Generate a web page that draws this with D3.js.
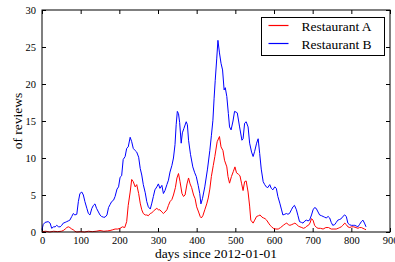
<!DOCTYPE html>
<html>
<head>
<meta charset="utf-8">
<script src="https://cdn.jsdelivr.net/npm/d3@7"></script>
<style>
  body { margin: 0; background: #fff; }
  text { font-family: "Liberation Serif", "DejaVu Serif", serif; fill: #000; }
</style>
</head>
<body>
<script>
// Reviews per day (smoothed)
const daysA = [0,10,20,30,40,50,55,60,64,68,72,77,81,85,90,100,110,120,130,140,150,160,170,176,183,189,196,202,208,214,
  219,223,228,232,236,241,245,250,254,258,262,267,271,275,280,284,288,292,297,301,305,310,314,318,323,327,331,336,340,345,
  349,353,357,362,366,370,375,379,383,387,392,396,400,405,409,412,416,421,426,430,434,438,443,447,453,459,463,468,472,478,
  481,485,490,495,499,503,508,512,516,520,524,528,533,537,540,546,550,555,560,564,569,573,577,581,586,590,594,598,605,611,
  617,624,629,633,637,641,646,650,654,659,663,667,672,676,681,685,689,693,697,701,705,710,714,720,727,734,741,748,755,761,
  766,770,774,778,783,787,791,796,800,806,812,817,821,826,830,834,838];
const reviewsA = [0.05,0.1,0,0.1,0.05,0.1,0.2,0.4,0.6,0.7,0.6,0.4,0.3,0.1,0,0.05,0,0.1,0.05,0.1,0.2,0.1,0.15,0.2,0.3,0.4,0.4,0.5,0.7,0.6,
  1.4,3.6,5.4,7.1,6.8,6.1,6.4,5.2,3.9,3.0,2.5,2.3,2.3,2.2,2.5,2.6,2.8,3.0,3.2,3.0,3.0,2.7,2.5,2.7,3.0,3.6,4.1,4.4,5.0,6.0,
  7.3,7.9,6.8,5.2,4.8,5.0,6.5,7.3,6.5,6.0,5.0,4.5,3.4,2.7,2.1,1.9,2.2,3.0,3.8,4.6,5.8,7.5,9.0,10.2,12.2,12.9,11.5,11.0,9.7,8.8,
  7.5,6.6,7.5,8.2,8.8,8.0,7.8,7.6,6.6,5.6,6.8,6.9,5.4,3.5,1.6,1.2,1.6,2.1,2.2,2.3,2.0,1.9,1.8,1.6,1.2,0.9,0.7,0.5,0.4,0.4,
  0.6,0.9,1.1,1.2,1.0,0.9,1.0,1.1,1.2,1.0,0.8,0.7,0.6,0.5,0.6,0.8,0.9,1.2,1.8,1.6,0.9,0.6,0.5,0.5,0.4,0.6,0.6,0.4,0.4,0.4,
  0.5,0.6,0.7,0.9,1.2,1.0,0.7,0.6,0.7,0.7,0.6,0.5,0.6,0.6,0.5,0.4,0.3];

const daysB = [0,3,8,16,21,25,30,34,38,43,47,51,55,60,64,68,72,77,81,85,90,94,98,103,107,111,116,120,124,129,
  133,137,141,146,150,154,159,163,168,172,176,180,185,189,194,198,202,206,210,215,219,223,228,232,236,241,245,250,254,258,
  262,267,271,275,280,284,288,292,297,301,305,310,314,318,323,327,331,336,340,344,347,350,353,356,360,363,367,373,376,379,
  384,390,395,399,404,408,411,415,421,428,434,438,442,445,448,452,455,459,463,467,471,474,478,482,485,489,494,498,502,505,
  511,517,520,524,528,533,537,542,546,550,555,559,563,567,572,576,580,584,589,593,597,602,606,610,615,619,623,628,632,636,
  640,645,649,653,658,662,666,671,675,680,684,688,692,697,701,705,709,714,718,723,727,731,735,740,744,748,752,757,761,765,
  770,774,778,783,787,791,795,800,805,809,813,817,821,826,830,834,838];
const reviewsB = [0.3,1.0,1.3,1.4,1.2,0.5,0.7,0.7,0.9,0.7,0.7,0.9,1.2,1.3,1.4,1.5,1.6,2.1,2.5,2.3,2.4,4.1,5.2,5.4,5.0,4.1,3.2,2.5,2.3,3.2,
  3.6,3.8,3.2,2.7,2.3,2.1,2.0,2.0,2.3,3.3,3.7,4.1,4.3,4.8,5.8,6.1,7.4,7.6,9.8,10.2,11.3,11.5,12.8,12.2,11.3,11.0,10.8,10.1,8.6,7.7,
  6.4,5.3,4.1,3.4,3.1,3.9,4.8,5.7,6.1,6.5,5.9,6.3,5.2,5.6,6.4,7.0,8.1,9.0,10.0,11.8,14.5,16.3,16.0,14.8,12.0,13.4,14.0,14.9,14.5,12.4,
  10.5,8.8,8.0,7.5,6.3,5.2,3.8,4.5,6.1,8.5,11.0,13.0,15.1,18.0,20.5,23.5,25.9,24.2,22.8,21.9,19.2,19.5,18.3,16.0,14.2,13.8,15.0,16.3,16.2,16.1,
  14.2,12.4,12.6,14.7,14.9,14.2,12.0,10.8,10.2,10.9,12.0,12.6,10.6,8.5,6.8,6.4,6.1,6.0,6.4,5.9,5.7,6.1,5.9,4.8,3.9,3.1,2.3,2.4,2.5,2.4,
  2.5,3.0,3.4,3.6,3.0,2.2,1.4,1.3,1.2,1.5,1.6,1.5,1.6,2.3,3.0,3.3,3.2,2.7,2.3,2.2,2.1,2.0,1.9,2.1,1.9,1.3,0.9,1.0,1.3,1.6,
  1.7,1.8,2.1,2.3,2.1,1.2,1.0,0.9,0.9,0.9,0.8,0.7,1.0,1.4,1.6,1.2,0.7];

const seriesNames = ["Restaurant A", "Restaurant B"];
const seriesColors = ["#ff0000", "#0000ff"];
const xTicks = [0, 100, 200, 300, 400, 500, 600, 700, 800, 900];
const yTicks = [0, 5, 10, 15, 20, 25, 30];

const W = 395, H = 262;
const mLeft = 42, mRight = 390, mTop = 10, mBottom = 232;
const serif = '"Liberation Serif", "DejaVu Serif", serif';

const svg = d3.select("body").append("svg").attr("width", W).attr("height", H);

const x = d3.scaleLinear().domain([0, 900]).range([mLeft, mRight]);
const y = d3.scaleLinear().domain([0, 30]).range([mBottom, mTop]);

// ticks point inward on all four sides, like matplotlib classic
const axes = [
  [d3.axisBottom(x).tickValues(xTicks).tickSizeInner(-4).tickSizeOuter(0).tickPadding(5), 0, mBottom, true],
  [d3.axisTop(x).tickValues(xTicks).tickSizeInner(-4).tickSizeOuter(0), 0, mTop, false],
  [d3.axisLeft(y).tickValues(yTicks).tickSizeInner(-4).tickSizeOuter(0).tickPadding(6), mLeft, 0, true],
  [d3.axisRight(y).tickValues(yTicks).tickSizeInner(-4).tickSizeOuter(0), mRight, 0, false]
];
axes.forEach(([ax, tx, ty, labels]) => {
  const g = svg.append("g").attr("transform", `translate(${tx},${ty})`).call(ax)
    .attr("font-family", serif);
  g.select(".domain").remove();
  g.selectAll(".tick line").attr("stroke", "#000");
  if (labels) g.selectAll(".tick text").style("font-size", "10.5px").attr("fill", "#000");
  else g.selectAll(".tick text").remove();
});

const line = d3.line().x(d => x(d[0])).y(d => y(d[1]));
const dataA = daysA.map((d, i) => [d, reviewsA[i]]);
const dataB = daysB.map((d, i) => [d, reviewsB[i]]);

svg.append("path").datum(dataA).attr("d", line)
  .attr("fill", "none").attr("stroke", seriesColors[0]).attr("stroke-width", 1);
svg.append("path").datum(dataB).attr("d", line)
  .attr("fill", "none").attr("stroke", seriesColors[1]).attr("stroke-width", 1);

// frame
svg.append("rect").attr("x", mLeft).attr("y", mTop).attr("width", mRight - mLeft).attr("height", mBottom - mTop)
  .attr("fill", "none").attr("stroke", "#000").attr("stroke-width", 1);

// axis labels
svg.append("text").attr("x", (mLeft + mRight) / 2).attr("y", 258).attr("text-anchor", "middle")
  .style("font-size", "13.5px").text("days since 2012-01-01");
svg.append("text").attr("transform", `translate(22,${(mTop + mBottom) / 2}) rotate(-90)`)
  .attr("text-anchor", "middle").style("font-size", "13.5px").text("of reviews");

// legend
const lg = svg.append("g").attr("transform", "translate(261.5,17.5)");
lg.append("rect").attr("width", 123).attr("height", 38).attr("fill", "#fff").attr("stroke", "#000");
seriesNames.forEach((name, i) => {
  const yy = 8 + i * 18;
  lg.append("line").attr("x1", 7).attr("x2", 27).attr("y1", yy).attr("y2", yy)
    .attr("stroke", seriesColors[i]).attr("stroke-width", 1.2);
  lg.append("text").attr("x", 40).attr("y", yy + 5).style("font-size", "13.5px")
    .attr("font-family", serif).text(name);
});
</script>
</body>
</html>
